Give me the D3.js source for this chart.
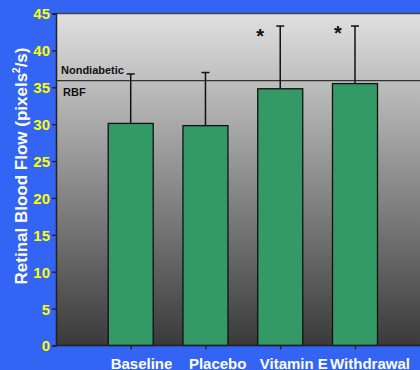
<!DOCTYPE html>
<html>
<head>
<meta charset="utf-8">
<script src="https://cdn.jsdelivr.net/npm/d3@7"></script>
<style>
  html, body { margin: 0; padding: 0; background: #3464F4; }
  svg { display: block; }
</style>
</head>
<body>
<svg id="chart" width="420" height="370"></svg>
<script>
// Retinal blood flow by treatment phase
const categories = ["Baseline", "Placebo", "Vitamin E", "Withdrawal"];
const means = [30.1, 29.8, 34.8, 35.5];
const upperError = [36.8, 37.0, 43.3, 43.3];
const significant = [false, false, true, true];
const yTicks = [0, 5, 10, 15, 20, 25, 30, 35, 40, 45];
const referenceValue = 35.9;

const svg = d3.select("#chart");
const W = 420, H = 370;
const plot = { left: 56, top: 13.5, right: 432, bottom: 345.5 };
const FONT = "Arial, 'Liberation Sans', sans-serif";

svg.append("rect").attr("width", W).attr("height", H).attr("fill", "#3464F4");

const defs = svg.append("defs");
const grad = defs.append("linearGradient").attr("id", "bg").attr("x1", 0).attr("y1", 0).attr("x2", 0).attr("y2", 1);
grad.append("stop").attr("offset", "0%").attr("stop-color", "#e0e0e0");
grad.append("stop").attr("offset", "100%").attr("stop-color", "#3a3a3a");

const y = d3.scaleLinear().domain([0, 45]).range([plot.bottom, plot.top]);
const x = d3.scalePoint().domain(categories).range([130.7, 355]);
// category labels sit a little right of their ticks
const xLabel = d3.scalePoint().domain(categories).range([141.5, 370]);
const barW = 45;

svg.append("rect")
  .attr("x", plot.left).attr("y", plot.top)
  .attr("width", plot.right - plot.left).attr("height", plot.bottom - plot.top)
  .attr("fill", "url(#bg)");

// top border
svg.append("line")
  .attr("x1", plot.left).attr("x2", plot.right)
  .attr("y1", plot.top).attr("y2", plot.top)
  .attr("stroke", "#444").attr("stroke-width", 1.5);

// reference line for nondiabetic RBF
svg.append("line")
  .attr("x1", plot.left).attr("x2", plot.right)
  .attr("y1", y(referenceValue)).attr("y2", y(referenceValue))
  .attr("stroke", "#333").attr("stroke-width", 1.3);

svg.append("text").attr("x", 61).attr("y", y(referenceValue) - 7)
  .attr("font-family", FONT)
  .attr("font-weight", "bold").attr("font-size", 11).attr("fill", "#111")
  .text("Nondiabetic");
svg.append("text").attr("x", 63).attr("y", y(referenceValue) + 15)
  .attr("font-family", FONT)
  .attr("font-weight", "bold").attr("font-size", 11).attr("fill", "#111")
  .text("RBF");

const data = categories.map((c, i) => ({ c, m: means[i], u: upperError[i], s: significant[i] }));

// error bars (upper only)
const eb = svg.append("g");
eb.selectAll("line.v").data(data).join("line")
  .attr("x1", d => x(d.c)).attr("x2", d => x(d.c))
  .attr("y1", d => y(d.m)).attr("y2", d => y(d.u))
  .attr("stroke", "#111").attr("stroke-width", 1.5);
eb.selectAll("line.cap").data(data).join("line")
  .attr("x1", d => x(d.c) - 4).attr("x2", d => x(d.c) + 4)
  .attr("y1", d => y(d.u)).attr("y2", d => y(d.u))
  .attr("stroke", "#111").attr("stroke-width", 1.5);

// bars
svg.append("g").selectAll("rect").data(data).join("rect")
  .attr("x", d => x(d.c) - barW / 2)
  .attr("y", d => y(d.m))
  .attr("width", barW)
  .attr("height", d => y(0) - y(d.m))
  .attr("fill", "#339966")
  .attr("stroke", "#111").attr("stroke-width", 1.3);

// significance markers
svg.append("g").selectAll("text").data(data.filter(d => d.s)).join("text")
  .attr("x", (d, i) => x(d.c) - (i === 0 ? 20 : 17))
  .attr("y", (d, i) => i === 0 ? 43 : 39.5)
  .attr("text-anchor", "middle")
  .attr("font-family", FONT)
  .attr("font-weight", "bold").attr("font-size", 20).attr("fill", "#111")
  .text("*");

// y axis
const yAxis = svg.append("g").attr("transform", `translate(${plot.left},0)`)
  .call(d3.axisLeft(y).tickValues(yTicks).tickSize(4).tickPadding(2).tickFormat(d3.format("d")));
yAxis.select(".domain").attr("stroke", "#222").attr("stroke-width", 1.5);
yAxis.selectAll(".tick line").attr("stroke", "#222").attr("stroke-width", 1.3);
yAxis.selectAll(".tick text")
  .attr("fill", "#ffff00")
  .attr("font-family", FONT)
  .attr("font-weight", "bold").attr("font-size", 15)
  .attr("dy", "0.36em");

// x axis
const xAxis = svg.append("g").attr("transform", `translate(0,${plot.bottom})`)
  .call(d3.axisBottom(x).tickSize(4).tickFormat(""));
xAxis.select(".domain").attr("d", `M${plot.left},0H${plot.right}`).attr("stroke", "#222").attr("stroke-width", 1.5);
xAxis.selectAll(".tick line").attr("stroke", "#222").attr("stroke-width", 1.3);

svg.append("g").selectAll("text").data(categories).join("text")
  .attr("x", d => xLabel(d))
  .attr("y", 369)
  .attr("text-anchor", "middle")
  .attr("fill", "#ffffff")
  .attr("font-family", FONT)
  .attr("font-weight", "bold").attr("font-size", 15)
  .text(d => d);

// y axis title
const title = svg.append("text")
  .attr("transform", "translate(27,166) rotate(-90)")
  .attr("text-anchor", "middle")
  .attr("font-family", FONT)
  .attr("font-weight", "bold").attr("font-size", 17).attr("fill", "#ffffff");
title.append("tspan").text("Retinal Blood Flow (pixels");
title.append("tspan").attr("font-size", 10).attr("dy", -7).text("2");
title.append("tspan").attr("dy", 7).text("/s)");
</script>
</body>
</html>
